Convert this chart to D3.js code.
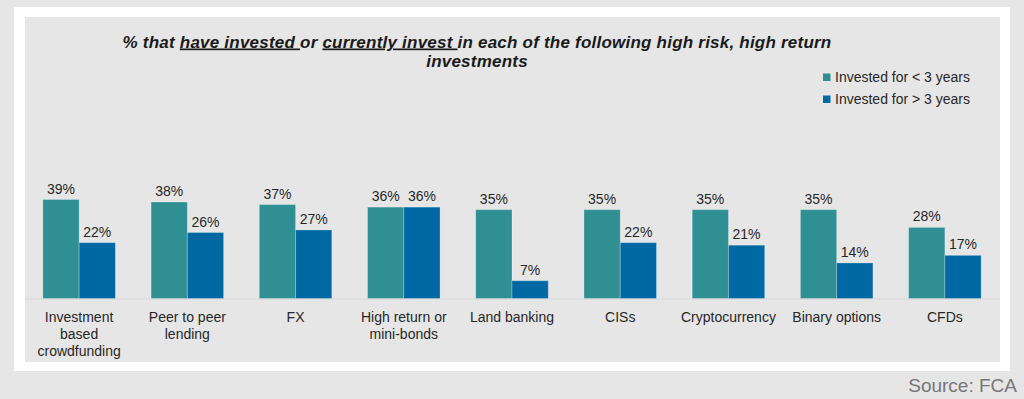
<!DOCTYPE html>
<html>
<head>
<meta charset="utf-8">
<script src="https://cdn.jsdelivr.net/npm/d3@7"></script>
<style>
  html, body { margin: 0; padding: 0; background: #e6e6e6; }
  svg { display: block; }
  text { font-family: "Liberation Sans", Arial, sans-serif; }
</style>
</head>
<body>
<script>
const categories = [
  ["Investment", "based", "crowdfunding"],
  ["Peer to peer", "lending"],
  ["FX"],
  ["High return or", "mini-bonds"],
  ["Land banking"],
  ["CISs"],
  ["Cryptocurrency"],
  ["Binary options"],
  ["CFDs"]
];
const seriesNames = ["Invested for < 3 years", "Invested for > 3 years"];
const lessThan3 = [39, 38, 37, 36, 35, 35, 35, 35, 28];
const moreThan3 = [22, 26, 27, 36, 7, 22, 21, 14, 17];
const colors = ["#2f8f93", "#0069a3"];

const W = 1024, H = 399;
const svg = d3.select("body").append("svg").attr("width", W).attr("height", H);

svg.append("rect").attr("x", 0).attr("y", 0).attr("width", W).attr("height", H).attr("fill", "#e6e6e6");
svg.append("rect").attr("x", 14).attr("y", 7).attr("width", 996).attr("height", 364).attr("fill", "#ffffff");
svg.append("rect").attr("x", 25).attr("y", 17).attr("width", 975).attr("height", 345).attr("fill", "#e6e6e6");

const keys = categories.map((c, i) => i);
const x = d3.scaleBand().domain(keys).range([25, 999]).paddingInner(0.33).paddingOuter(0.165);
const xs = d3.scaleBand().domain([0, 1]).range([0, x.bandwidth()]);
const y = d3.scaleLinear().domain([0, 39]).range([298.5, 199.5]);

// baseline
svg.append("line").attr("x1", 25).attr("x2", 1000).attr("y1", y(0) + 0.5).attr("y2", y(0) + 0.5)
  .attr("stroke", "#d8d8d8").attr("stroke-width", 1);

const data = keys.map(i => ({ i, vals: [lessThan3[i], moreThan3[i]] }));
const g = svg.selectAll("g.grp").data(data).join("g").attr("class", "grp")
  .attr("transform", d => `translate(${x(d.i)},0)`);

g.selectAll("rect").data(d => d.vals.map((v, s) => ({ v, s }))).join("rect")
  .attr("x", d => xs(d.s))
  .attr("y", d => y(d.v))
  .attr("width", xs.bandwidth())
  .attr("height", d => y(0) - y(d.v))
  .attr("fill", d => colors[d.s])
  .attr("stroke", "rgba(255,255,255,0.25)")
  .attr("stroke-width", 1);

g.selectAll("text.val").data(d => d.vals.map((v, s) => ({ v, s }))).join("text")
  .attr("class", "val")
  .attr("x", d => xs(d.s) + xs.bandwidth() / 2)
  .attr("y", d => y(d.v) - 6)
  .attr("text-anchor", "middle")
  .attr("font-size", 14)
  .attr("fill", "#262626")
  .text(d => d.v + "%");

// category labels
g.append("text")
  .attr("text-anchor", "middle")
  .attr("font-size", 14)
  .attr("fill", "#262626")
  .selectAll("tspan").data(d => categories[d.i]).join("tspan")
  .attr("x", x.bandwidth() / 2)
  .attr("y", (d, j) => 322 + j * 17)
  .text(d => d);

// title
const title = svg.append("text")
  .attr("text-anchor", "middle")
  .attr("font-size", 17)
  .attr("letter-spacing", 0.22)
  .attr("font-weight", "bold")
  .attr("font-style", "italic")
  .attr("fill", "#1a1a1a");
const line1 = title.append("tspan").attr("x", 477).attr("y", 47.5);
line1.append("tspan").text("% that ");
line1.append("tspan").attr("text-decoration", "underline").text("have invested ");
line1.append("tspan").text("or ");
line1.append("tspan").attr("text-decoration", "underline").text("currently invest ");
line1.append("tspan").text("in each of the following high risk, high return");
title.append("tspan").attr("x", 477).attr("y", 66.5).text("investments");

// legend
const leg = svg.append("g");
seriesNames.forEach((name, s) => {
  leg.append("rect").attr("x", 823).attr("y", 73.5 + s * 22).attr("width", 7.5).attr("height", 7.5).attr("fill", colors[s]);
  leg.append("text").attr("x", 835).attr("y", 82 + s * 22).attr("font-size", 14).attr("fill", "#262626").text(name);
});

// source
svg.append("text").attr("x", 1017).attr("y", 392).attr("text-anchor", "end")
  .attr("font-family", "'Open Sans', sans-serif").attr("font-size", 19).attr("fill", "#767676")
  .text("Source: FCA");
</script>
</body>
</html>
